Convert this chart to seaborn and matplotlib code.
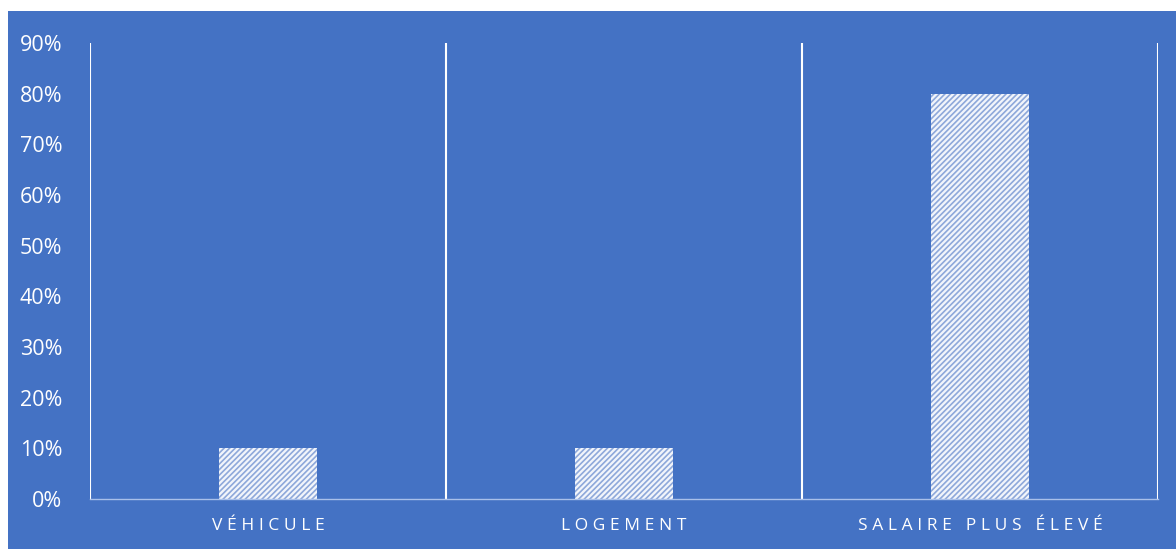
import matplotlib
matplotlib.use("Agg")
import matplotlib.pyplot as plt
import matplotlib.patches as mpatches
import pandas as pd
import seaborn as sns

categories = ["VÉHICULE", "LOGEMENT", "SALAIRE PLUS ÉLEVÉ"]
shares = [0.10, 0.10, 0.80]
yticks = [0.0, 0.1, 0.2, 0.3, 0.4, 0.5, 0.6, 0.7, 0.8, 0.9]

BG = "#4472C4"

sns.set_style("white")
plt.rcParams["font.family"] = ["Open Sans", "DejaVu Sans"]
plt.rcParams["hatch.linewidth"] = 1.2

df = pd.DataFrame({"cat": categories, "share": shares})

fig = plt.figure(figsize=(11.76, 5.49), dpi=100, facecolor="white")
fig.patches.append(mpatches.Rectangle((8 / 1176, 0), 1, 1 - 11 / 549,
                                      transform=fig.transFigure, facecolor=BG,
                                      edgecolor="none", zorder=-10))
ax = fig.add_axes([90 / 1176, 1 - 499 / 549, (1158 - 90) / 1176, (499 - 43) / 549])
ax.set_zorder(5)
ax.set_facecolor(BG)

sns.barplot(data=df, x="cat", y="share", ax=ax, width=0.275, color="white")

# dotted diagonal fill like the original
for p in ax.patches:
    p.set_facecolor("#F2F5FB")
    p.set_hatch("//////")
    p.set_edgecolor("#8EA8DA")
    p.set_linewidth(0)

ax.set_xlim(-0.5, len(categories) - 0.5)
ax.set_ylim(0, 0.9)
ax.set_yticks(yticks)
ax.set_yticklabels([f"{int(round(t * 100))}%" for t in yticks])

def spaced(s):
    gap = "\u2009\u200a"
    return gap.join(list(s)).replace(gap + " " + gap, gap * 3)

ax.set_xticks(range(len(categories)))
ax.set_xticklabels([spaced(c) for c in categories])
ax.tick_params(axis="y", length=0, pad=20, labelsize=15.5, labelcolor="white")
ax.tick_params(axis="x", length=0, pad=14, labelsize=12.5, labelcolor="white")
ax.set_xlabel("")
ax.set_ylabel("")

for s in ["top", "right", "left"]:
    ax.spines[s].set_visible(False)
ax.spines["bottom"].set_color("#A9C0EA")
ax.spines["bottom"].set_linewidth(1)

for x in [-0.5, 0.5, 1.5, 2.5]:
    ax.axvline(x, color="white", linewidth=1.5, zorder=0.5)

fig.savefig("out.png", dpi=100, facecolor="white")
